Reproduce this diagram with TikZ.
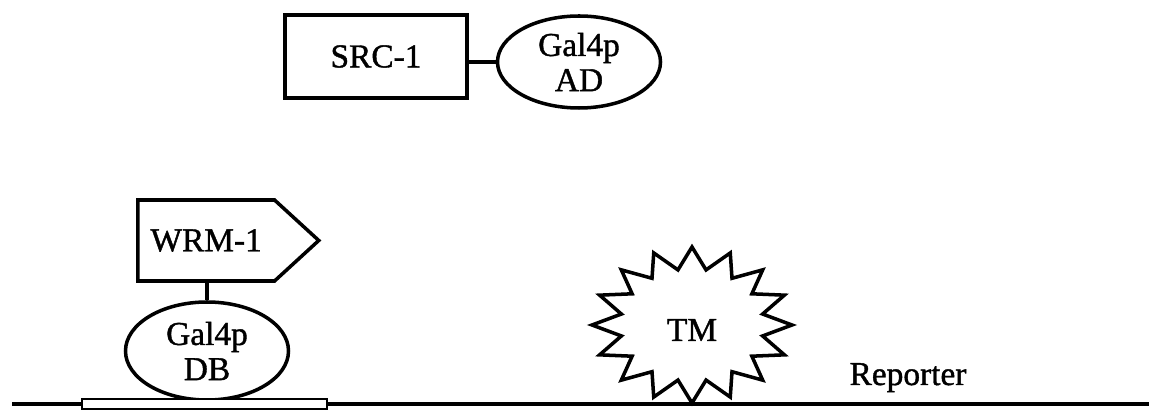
\documentclass[tikz,border=0pt]{standalone}
\usepackage{fontspec}
\setmainfont{Liberation Serif}[FakeBold=1.2]
\usetikzlibrary{positioning,shapes.geometric,shapes.symbols}

\tikzset{
  part/.style={draw, line width=2pt, inner sep=0pt, align=center,
    font=\fontsize{19}{20}\selectfont},
  boxpart/.style={part, rectangle, minimum width=3.64cm, minimum height=1.66cm},
  galpart/.style={part, ellipse, minimum width=3.26cm},
  arrowpart/.style={part, signal, signal to=east, signal pointer angle=85,
    minimum width=3.62cm, minimum height=1.62cm},
  link/.style={line width=2pt}
}

\begin{document}
\begin{tikzpicture}
  \useasboundingbox (0,0) rectangle (22.98,8.2);

  \node[boxpart] (src) at (7.52,7.07) {SRC-1};
  \node[galpart, minimum height=1.84cm] (ad) at (11.58,6.96) {Gal4p\\AD};
  \draw[link] (ad.west -| src.east) -- (ad.west);

  \node[arrowpart, anchor=west] (wrm) at (2.72,3.39) {WRM-1};
  \node[galpart, minimum height=1.96cm] (db) at (4.14,1.18) {Gal4p\\DB};
  \draw[link] (wrm.south -| db.north) -- (db.north);

  % target sequence, a sixteen-point burst
  \coordinate (tmc) at (13.84,1.70);
  \draw[link, fill=white, shift={(tmc)}]
    (90:2 and 1.56) foreach \i in {1,...,31} {
      -- ({90+\i*11.25}:{2*(1-0.28*mod(\i,2))} and {1.56*(1-0.28*mod(\i,2))})
    } -- cycle;
  \node[font=\fontsize{19}{20}\selectfont] (tm) at (13.84,1.60) {TM};

  % dna
  \coordinate (dnaL) at (0.24,0.12);
  \coordinate (dnaR) at (22.98,0.12);
  \draw[link] (dnaL) -- (dnaR);
  \draw[line width=1.4pt, fill=white] (1.64,0.02) rectangle (6.54,0.22);
  \node[font=\fontsize{19}{20}\selectfont, anchor=base] (rep) at (18.16,0.5) {Reporter};
\end{tikzpicture}
\end{document}
